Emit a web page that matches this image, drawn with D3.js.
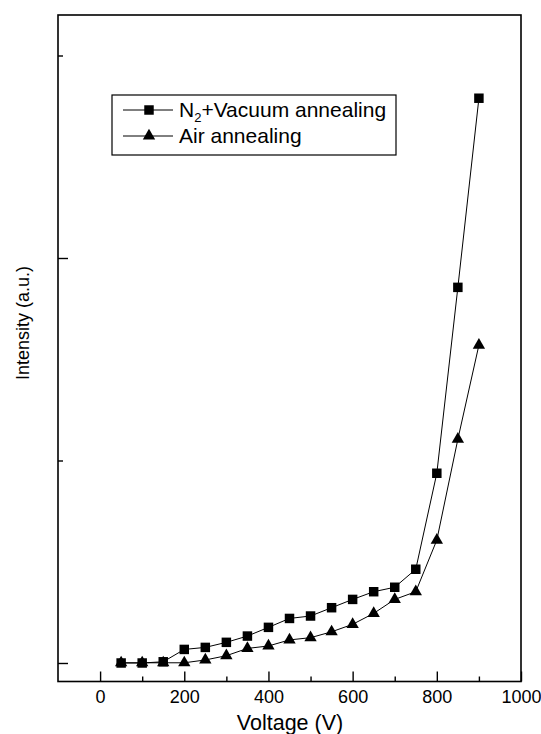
<!DOCTYPE html>
<html><head><meta charset="utf-8">
<script src="https://cdn.jsdelivr.net/npm/d3@7"></script>
<style>body{margin:0;background:#fff}svg{display:block}text{font-family:"Liberation Sans",Arial,sans-serif;fill:#000}</style>
</head><body>
<script>
const voltages = [50,100,150,200,250,300,350,400,450,500,550,600,650,700,750,800,850,900];
const n2Vacuum = [0,0,0.006,0.067,0.077,0.102,0.133,0.176,0.220,0.232,0.273,0.314,0.352,0.374,0.463,0.937,1.855,2.789];
const airAnneal = [0.001,0.001,0.001,0.001,0.015,0.036,0.072,0.084,0.114,0.125,0.154,0.191,0.245,0.314,0.352,0.607,1.105,1.570];
const xMajorTicks = [0,200,400,600,800,1000];
const xMinorTicks = [100,300,500,700,900];
const yMajorTicks = [0,2];
const yMinorTicks = [1,3];
const seriesNames = ["N\u2082+Vacuum annealing","Air annealing"];

const W=541,H=734;
const L=58,R=521,T=15,B=681.5;
const svg=d3.select("body").append("svg").attr("width",W).attr("height",H);
const x=d3.scaleLinear().domain([-100,1000]).range([L,R]);
const y=d3.scaleLinear().domain([-0.0914,3.2]).range([B,T]);

// frame
svg.append("rect").attr("x",L).attr("y",T).attr("width",R-L).attr("height",B-T)
  .attr("fill","none").attr("stroke","#000").attr("stroke-width",1.6);

// x ticks
const gx=svg.append("g").attr("transform",`translate(0,${B})`);
gx.call(d3.axisBottom(x).tickValues(xMajorTicks).tickSize(-10).tickPadding(9).tickFormat(d3.format("d")));
gx.append("g").call(d3.axisBottom(x).tickValues(xMinorTicks).tickSize(-5).tickFormat(""));
gx.selectAll(".domain").remove();
gx.selectAll("line").attr("stroke","#000").attr("stroke-width",1.4);
gx.selectAll("text").attr("font-size",18).attr("font-family","Liberation Sans, Arial, sans-serif");

// y ticks
const gy=svg.append("g").attr("transform",`translate(${L},0)`);
gy.call(d3.axisLeft(y).tickValues(yMajorTicks).tickSize(-10).tickFormat(""));
gy.append("g").call(d3.axisLeft(y).tickValues(yMinorTicks).tickSize(-5).tickFormat(""));
gy.selectAll(".domain").remove();
gy.selectAll("line").attr("stroke","#000").attr("stroke-width",1.4);

// axis titles
svg.append("text").attr("x",290).attr("y",730).attr("text-anchor","middle").attr("font-size",21.5).text("Voltage (V)");
svg.append("text").attr("transform",`translate(29,323) rotate(-90)`).attr("text-anchor","middle").attr("font-size",18).text("Intensity (a.u.)");

const line=d3.line().x(d=>x(d[0])).y(d=>y(d[1]));
const sqData=voltages.map((v,i)=>[v,n2Vacuum[i]]);
const trData=voltages.map((v,i)=>[v,airAnneal[i]]);
const sq=d3.symbol().type(d3.symbolSquare).size(90);
const tr=d3.symbol().type(d3.symbolTriangle).size(66);

svg.append("path").datum(trData).attr("d",line).attr("fill","none").attr("stroke","#000").attr("stroke-width",1);
svg.append("path").datum(sqData).attr("d",line).attr("fill","none").attr("stroke","#000").attr("stroke-width",1);
svg.selectAll(".tr").data(trData).enter().append("path").attr("d",tr)
  .attr("transform",d=>`translate(${x(d[0])},${y(d[1])})`).attr("fill","#000");
svg.selectAll(".sq").data(sqData).enter().append("path").attr("d",sq)
  .attr("transform",d=>`translate(${x(d[0])},${y(d[1])})`).attr("fill","#000");

// legend
const lg=svg.append("g");
lg.append("rect").attr("x",112).attr("y",95).attr("width",284).attr("height",60).attr("fill","#fff").attr("stroke","#000").attr("stroke-width",1.2);
const rows=[{y:110,sym:sq,name:seriesNames[0]},{y:136,sym:tr,name:seriesNames[1]}];
rows.forEach((r,i)=>{
  lg.append("line").attr("x1",123).attr("x2",173).attr("y1",r.y).attr("y2",r.y).attr("stroke","#000").attr("stroke-width",1);
  lg.append("path").attr("d",r.sym).attr("transform",`translate(149,${r.y})`).attr("fill","#000");
  const t=lg.append("text").attr("x",179).attr("y",r.y+7).attr("font-size",21);
  if(i===0){
    t.append("tspan").text("N");
    t.append("tspan").attr("font-size",13).attr("dy",5).text("2");
    t.append("tspan").attr("dy",-5).text("+Vacuum annealing");
  } else t.text(r.name);
});
</script>
</body></html>
